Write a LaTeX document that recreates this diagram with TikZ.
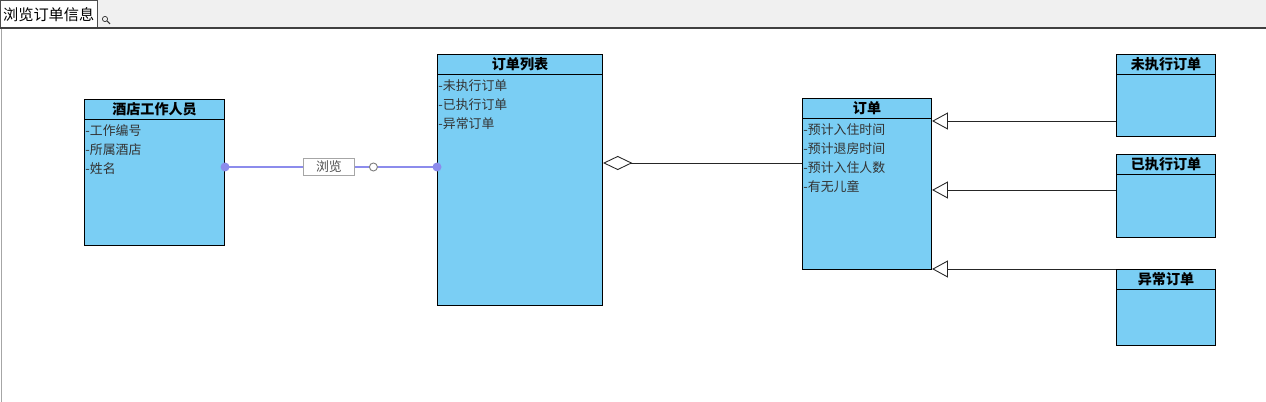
\documentclass[tikz,border=0pt]{standalone}
\usepackage{fontspec}
\setmainfont{Noto Sans CJK SC}
\usetikzlibrary{arrows.meta}
\definecolor{clsfill}{RGB}{122,206,244}
\definecolor{assoclr}{RGB}{140,140,236}
\definecolor{tabgray}{RGB}{240,240,240}

\def\pxu{0.03cm}

\begin{document}
\begin{tikzpicture}[
    x=0.03cm, y=-0.03cm,
    cls/.style={draw=black, fill=clsfill, line width=0.9pt, inner sep=0pt, anchor=north west},
    hdr/.style={draw=black, line width=0.9pt, inner sep=0pt, anchor=north west,
      minimum height=20*\pxu, font=\fontsize{12}{14}\selectfont\bfseries},
    attr/.style={anchor=north west, align=left, inner xsep=1pt, inner ysep=4pt,
      text=black!80, font=\fontsize{11}{16.2}\selectfont},
    assoc/.style={draw=assoclr, line width=1pt},
    aggr/.style={draw=black!85, line width=0.75pt, {Diamond[open, length=25pt, width=12pt]}-},
    gen/.style={draw=black!85, line width=0.75pt, -{Triangle[open, length=13.5pt, width=14.5pt]}},
    dot/.style={circle, fill=assoclr, inner sep=0pt, minimum size=9*\pxu},
    ring/.style={circle, draw=gray, fill=white, line width=0.8pt, inner sep=0pt, minimum size=8*\pxu},
    lbl/.style={draw=gray!70, fill=white, inner sep=0pt, minimum width=51*\pxu,
      minimum height=17*\pxu, text=black!70, font=\fontsize{11}{13}\selectfont},
  ]

  \useasboundingbox (0,0) rectangle (1266,402);

  % window frame
  \fill[tabgray] (0,0) rectangle (1266,27);
  \node[draw=black!70, fill=white, anchor=north west, inner sep=0pt, minimum width=97*\pxu,
    minimum height=28*\pxu, font=\fontsize{13}{15}\selectfont] (tab) at (0,0) {浏览订单信息};
  \draw[black!75, line width=1.6pt] (0,28) -- (1266,28);
  \draw[gray!70, line width=0.8pt] (1,29) -- (1,402);
  \draw[black!80, line width=0.6pt] (105,19) circle[radius=2.6];
  \draw[black!80, line width=0.9pt] (107,21) -- (110,24);

  % the hotel staff
  \node[cls, minimum width=140*\pxu, minimum height=146*\pxu] (staff) at (84,99) {};
  \node[hdr, minimum width=140*\pxu] (staff-h) at (staff.north west) {酒店工作人员};
  \node[attr] (staff-a) at (staff-h.south west) {-工作编号\\-所属酒店\\-姓名};

  % the order list
  \node[cls, minimum width=165*\pxu, minimum height=251*\pxu] (list) at (437,54) {};
  \node[hdr, minimum width=165*\pxu] (list-h) at (list.north west) {订单列表};
  \node[attr] (list-a) at (list-h.south west) {-未执行订单\\-已执行订单\\-异常订单};

  % the order
  \node[cls, minimum width=129*\pxu, minimum height=171*\pxu] (order) at (802,98) {};
  \node[hdr, minimum width=129*\pxu] (order-h) at (order.north west) {订单};
  \node[attr] (order-a) at (order-h.south west) {-预计入住时间\\-预计退房时间\\-预计入住人数\\-有无儿童};

  % the three kinds of order
  \node[cls, minimum width=99*\pxu, minimum height=82*\pxu] (pending) at (1116,54) {};
  \node[hdr, minimum width=99*\pxu] (pending-h) at (pending.north west) {未执行订单};

  \node[cls, minimum width=99*\pxu, minimum height=83*\pxu] (done) at (1116,154) {};
  \node[hdr, minimum width=99*\pxu] (done-h) at (done.north west) {已执行订单};

  \node[cls, minimum width=99*\pxu, minimum height=76*\pxu] (abnormal) at (1116,269) {};
  \node[hdr, minimum width=99*\pxu] (abnormal-h) at (abnormal.north west) {异常订单};

  % browsing
  \draw[assoc] (staff.north east |- 0,167) -- (list.north west |- 0,167)
    node[dot, pos=0] {} node[dot, pos=1] {}
    node[lbl, pos=0.49] (browse) {浏览}
    node[ring, pos=0.7] (browse-r) {};

  % aggregation
  \draw[aggr] (list.north east |- 0,163) -- (order.north west |- 0,163);

  % generalisation
  \draw[gen] (pending.north west |- 0,121) -- (order.north east |- 0,121);
  \draw[gen] (done.north west |- 0,190) -- (order.north east |- 0,190);
  \draw[gen] (abnormal.north west) -- (order.east |- abnormal.north west);

\end{tikzpicture}
\end{document}
